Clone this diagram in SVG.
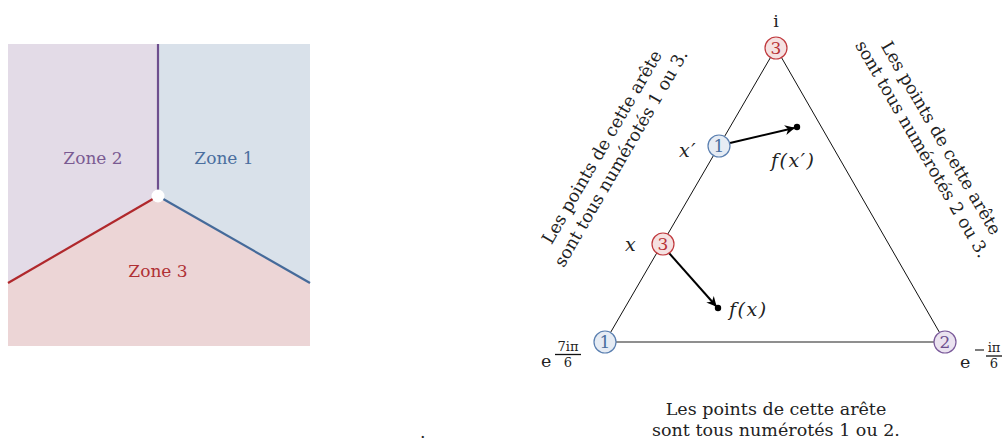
<svg xmlns="http://www.w3.org/2000/svg" width="1004" height="441" viewBox="0 0 1004 441">
<style>
.t{font-family:"DejaVu Serif","Liberation Serif",serif;font-size:17.5px;fill:#222}
.z{font-family:"DejaVu Serif","Liberation Serif",serif;font-size:17px;text-anchor:middle}
.m{font-family:"DejaVu Serif","Liberation Serif",serif;font-style:italic;font-size:19px;fill:#222;letter-spacing:1.5px}
.n{font-family:"DejaVu Serif","Liberation Serif",serif;font-size:17px;text-anchor:middle}
.s{font-family:"DejaVu Serif","Liberation Serif",serif;font-size:13px;fill:#222;text-anchor:middle}
.edge{stroke:#111;stroke-width:1;fill:none}
.arr{stroke:#000;stroke-width:2;fill:none}
</style>
<defs>
<marker id="ah" viewBox="0 0 10 10" refX="9" refY="5" markerWidth="5" markerHeight="5" orient="auto" markerUnits="strokeWidth">
<path d="M0,0 L10,5 L0,10 L3,5 Z" fill="#000"/>
</marker>
</defs>
<g id="zones">
<polygon points="8,44 158,44 158,196 8,283" fill="#e3dbe7"/>
<polygon points="158,44 310,44 310,283 158,196" fill="#d9e1ea"/>
<polygon points="8,283 158,196 310,283 310,346 8,346" fill="#ecd5d6"/>
<line x1="158" y1="44" x2="158" y2="196" stroke="#6e4f8e" stroke-width="2.2"/>
<line x1="8" y1="283" x2="158" y2="196" stroke="#b0282c" stroke-width="2.2"/>
<line x1="158" y1="196" x2="310" y2="283" stroke="#456a9a" stroke-width="2.2"/>
<circle cx="158" cy="196" r="6.5" fill="#fff"/>
<text class="z" x="93" y="164" fill="#7a5a92">Zone 2</text>
<text class="z" x="224" y="164" fill="#4a6e9e">Zone 1</text>
<text class="z" x="158" y="277" fill="#b03034">Zone 3</text>
</g>
<g id="connectors">
<line class="edge" x1="605" y1="342" x2="776" y2="48"/>
<line class="edge" x1="776" y1="48" x2="945" y2="342"/>
<line x1="605" y1="342" x2="945" y2="342" stroke="#6a6a6a" stroke-width="1.6"/>
<line class="arr" x1="730" y1="143" x2="794" y2="128" marker-end="url(#ah)"/>
<line class="arr" x1="669" y1="253" x2="716" y2="306" marker-end="url(#ah)"/>
<circle cx="797" cy="127" r="3.2" fill="#000"/>
<circle cx="718" cy="308" r="3.2" fill="#000"/>
</g>
<g id="node-top">
<circle cx="776" cy="48" r="11" fill="#f5e1e1" stroke="#c0393d" stroke-width="1.2"/>
<text class="n" x="776" y="54" fill="#b83236">3</text>
<text class="t" x="776" y="27" text-anchor="middle" font-size="19">i</text>
</g>
<g id="node-bl">
<circle cx="605" cy="342" r="11" fill="#e6ecf4" stroke="#5a7fb0" stroke-width="1.2"/>
<text class="n" x="605" y="348" fill="#4a6e9e">1</text>
<text class="t" x="541" y="367" font-size="19">e</text>
<text class="s" x="568" y="351">7iπ</text>
<line x1="555" y1="354.5" x2="581" y2="354.5" stroke="#111" stroke-width="1.3"/>
<text class="s" x="568" y="367">6</text>
</g>
<g id="node-br">
<circle cx="945" cy="342" r="11" fill="#ebe3f0" stroke="#7a5a9a" stroke-width="1.2"/>
<text class="n" x="945" y="348" fill="#6e4f8e">2</text>
<text class="t" x="960" y="368" font-size="19">e</text>
<line x1="975" y1="350" x2="984" y2="350" stroke="#111" stroke-width="1.1"/>
<text class="s" x="994" y="352">iπ</text>
<line x1="986" y1="356" x2="1002" y2="356" stroke="#111" stroke-width="1.3"/>
<text class="s" x="994" y="368">6</text>
</g>
<g id="node-xp">
<circle cx="719" cy="146" r="11" fill="#e6ecf4" stroke="#5a7fb0" stroke-width="1.2"/>
<text class="n" x="719" y="152" fill="#4a6e9e">1</text>
<text class="m" x="679" y="157">x′</text>
<text class="m" x="771" y="167">f(x′)</text>
</g>
<g id="node-x">
<circle cx="663" cy="244" r="11" fill="#f5e1e1" stroke="#c0393d" stroke-width="1.2"/>
<text class="n" x="663" y="250" fill="#b83236">3</text>
<text class="m" x="625" y="251">x</text>
<text class="m" x="729" y="316">f(x)</text>
</g>
<g id="label-left">
<text class="t" text-anchor="middle" transform="translate(607,150) rotate(-59.8)"><tspan x="0" y="0">Les points de cette arête</tspan><tspan x="0" y="22">sont tous numérotés 1 ou 3.</tspan></text>
</g>
<g id="label-right">
<text class="t" text-anchor="middle" transform="translate(936,141) rotate(59.8)"><tspan x="0" y="0">Les points de cette arête</tspan><tspan x="0" y="22">sont tous numérotés 2 ou 3.</tspan></text>
</g>
<g id="label-bottom">
<text class="t" x="776" y="415" text-anchor="middle">Les points de cette arête</text>
<text class="t" x="776" y="436" text-anchor="middle">sont tous numérotés 1 ou 2.</text>
</g>
<text class="t" x="420" y="438" font-size="10">.</text>
</svg>
